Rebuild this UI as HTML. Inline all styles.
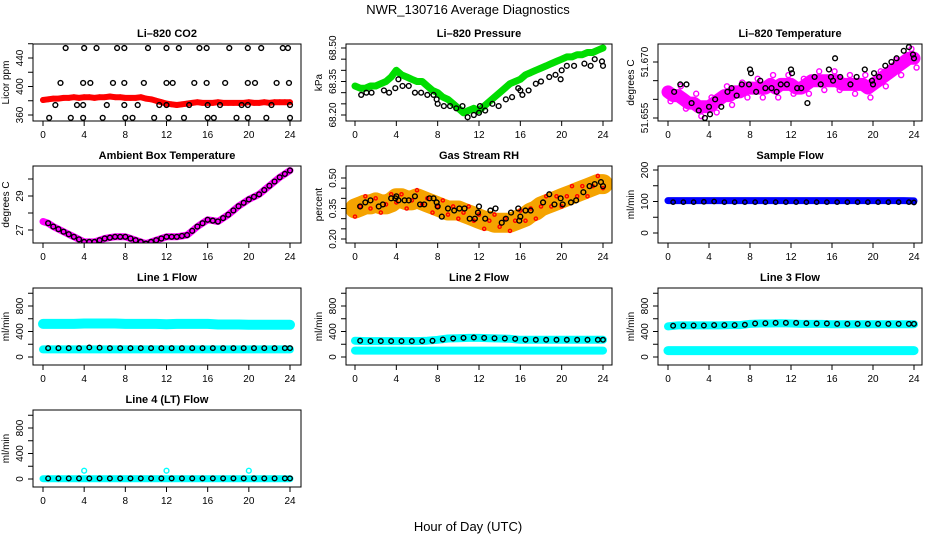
<!DOCTYPE html>
<html><head><meta charset="utf-8"><style>
body{margin:0;background:#fff}
svg{display:block;font-family:"Liberation Sans",sans-serif}
</style></head><body>
<svg id="c" width="936" height="540" viewBox="0 0 936 540">
<text x="468" y="14" text-anchor="middle" font-size="13">NWR_130716  Average Diagnostics</text>
<text x="468" y="531" text-anchor="middle" font-size="13">Hour of Day (UTC)</text>
</svg>
<script>
// ---- data ----
const co2Red=[381,382,383,383,384,384,385,384,385,385,384,385,385,386,385,385,384,384,384,385,383,382,380,378,376,375,374,375,376,377,378,377,377,377,378,377,377,377,377,377,378,377,377,378,377,378,378,378,378];
const co2BlackHours454=[2.2,4.0,5.2,7.2,7.9,10.2,12.0,13.2,15.2,15.9,18.1,19.9,21.2,23.3,23.8];
const co2BlackHours405=[1.7,3.9,4.6,6.8,7.9,9.8,12,12.6,14.7,15.9,17.7,19.9,20.6,22.7,23.9];
const co2BlackHours374=[1.2,3.3,3.9,6.2,7.9,9.2,11.3,12,14.2,16,17.2,19.3,19.9,22.2,24];
const co2BlackHours356=[0.6,2.7,3.9,5.8,8,8.7,10.8,12.2,13.7,16,16.6,18.8,19.9,21.7,24];
const presGreen=[68.33,68.32,68.32,68.33,68.33,68.34,68.35,68.37,68.40,68.38,68.37,68.36,68.35,68.35,68.33,68.31,68.30,68.28,68.27,68.25,68.23,68.21,68.22,68.23,68.22,68.24,68.26,68.28,68.30,68.32,68.34,68.35,68.36,68.38,68.39,68.40,68.41,68.42,68.43,68.44,68.45,68.46,68.46,68.47,68.47,68.48,68.48,68.49,68.50];
const presBlack=[[0.6,68.29],[1.1,68.30],[1.6,68.30],[2.8,68.31],[3.3,68.30],[3.9,68.32],[4.2,68.36],[4.6,68.33],[5.2,68.33],[5.8,68.30],[6.4,68.30],[7,68.29],[7.6,68.29],[7.9,68.27],[8,68.25],[8.6,68.24],[9.2,68.24],[9.8,68.23],[10.4,68.24],[10.9,68.19],[11.5,68.20],[12,68.21],[12.1,68.24],[12.6,68.22],[13.3,68.25],[13.9,68.24],[14.6,68.27],[15.2,68.28],[15.8,68.32],[16,68.31],[16.2,68.29],[16.8,68.31],[17.5,68.34],[18,68.35],[18.8,68.37],[19.4,68.38],[19.9,68.36],[20,68.40],[20.5,68.42],[21.2,68.42],[22.2,68.43],[22.8,68.42],[23.2,68.45],[23.9,68.44],[24,68.42]];
const tempMag=[51.662,51.661,51.661,51.660,51.659,51.659,51.658,51.658,51.658,51.659,51.660,51.661,51.661,51.662,51.662,51.663,51.663,51.663,51.663,51.663,51.664,51.663,51.664,51.664,51.664,51.663,51.663,51.664,51.665,51.665,51.665,51.665,51.665,51.665,51.664,51.664,51.664,51.664,51.664,51.663,51.664,51.665,51.666,51.667,51.668,51.669,51.670,51.671,51.671];
const tempBlack=[[0.6,51.662],[1.2,51.664],[1.8,51.664],[2.3,51.659],[3,51.657],[3.6,51.655],[4,51.658],[4.1,51.656],[4.6,51.660],[5.2,51.658],[5.8,51.662],[6.2,51.663],[6.7,51.661],[7.2,51.664],[7.9,51.664],[8,51.668],[8.1,51.667],[8.6,51.662],[9,51.665],[9.5,51.663],[10.1,51.663],[10.6,51.662],[11,51.664],[11.6,51.664],[12,51.668],[12.1,51.667],[12.6,51.663],[13,51.663],[13.6,51.659],[14.3,51.666],[14.9,51.664],[15.7,51.668],[15.9,51.666],[16.1,51.665],[16.3,51.671],[16.8,51.666],[17.8,51.664],[18.4,51.666],[19.2,51.668],[19.9,51.665],[20,51.664],[20.1,51.667],[20.6,51.666],[21.2,51.669],[21.8,51.670],[22.3,51.671],[23,51.673],[23.5,51.674],[23.9,51.672],[24,51.671]];
const ambient=[27.5,27.4,27.2,27.05,26.9,26.75,26.6,26.45,26.3,26.3,26.3,26.4,26.5,26.55,26.6,26.6,26.6,26.5,26.4,26.3,26.2,26.3,26.4,26.5,26.6,26.6,26.6,26.65,26.7,26.95,27.2,27.4,27.6,27.55,27.5,27.7,27.9,28.15,28.4,28.6,28.8,28.95,29.1,29.35,29.6,29.85,30.1,30.3,30.5];
const rhBand=[0.35,0.36,0.37,0.37,0.38,0.37,0.37,0.38,0.40,0.40,0.39,0.39,0.40,0.39,0.38,0.37,0.36,0.35,0.34,0.34,0.34,0.33,0.32,0.31,0.30,0.29,0.29,0.28,0.28,0.28,0.28,0.29,0.30,0.31,0.33,0.34,0.36,0.37,0.38,0.39,0.40,0.41,0.42,0.43,0.44,0.45,0.46,0.47,0.47];
const rhBlack=[[0.5,0.36],[1,0.38],[1.5,0.39],[2.3,0.36],[2.7,0.37],[3.5,0.40],[3.9,0.40],[4,0.41],[4.2,0.39],[4.8,0.39],[5.2,0.39],[5.8,0.41],[6.3,0.37],[6.7,0.37],[7.2,0.40],[7.6,0.40],[7.9,0.38],[8,0.36],[8.4,0.31],[9,0.35],[9.6,0.34],[10.1,0.35],[10.6,0.35],[11.1,0.30],[11.6,0.30],[11.9,0.33],[12,0.36],[12.6,0.30],[13.1,0.34],[13.6,0.35],[14.2,0.28],[14.6,0.30],[15.1,0.33],[15.8,0.35],[15.9,0.29],[16,0.31],[16.5,0.34],[17,0.34],[18.2,0.38],[18.8,0.42],[19.3,0.37],[19.9,0.40],[20.1,0.37],[20.9,0.38],[21.4,0.39],[22.1,0.43],[22.7,0.46],[23.2,0.47],[23.8,0.48],[24,0.46]];
const sampleBlue=[103,103,103,103,103,103,103,103,103,103,103,103,103,103,103,103,103,103,103,103,103,103,103,103,102];
const sampleBlack=[98,98,98,99,100,98,98,98,98,98,98,98,98,98,98,98,98,98,98,98,98,98,98,98,97];
const line1CyanHi=[520,520,520,520,525,525,525,525,520,520,520,520,515,520,520,520,520,510,510,510,505,505,505,505,505];
const line1CyanLo=[120,120,120,120,120,120,120,120,120,120,120,120,120,120,120,120,120,120,120,120,120,120,120,120,120];
const line1Black=[140,140,140,140,150,145,140,140,140,140,140,140,140,140,140,140,140,140,140,140,140,140,140,140,140];
const line2CyanHi=[255,250,250,250,250,250,250,255,270,290,295,300,300,295,290,285,270,270,270,270,270,270,270,270,270];
const line2CyanLo=[100,100,100,100,100,100,100,100,100,100,100,100,100,100,100,100,100,100,100,100,100,100,100,100,100];
const line2Black=[255,250,250,250,250,250,250,255,275,290,300,305,300,295,290,285,270,270,270,270,270,270,270,270,270];
const line3CyanHi=[480,495,495,495,495,495,500,500,520,525,525,530,525,520,520,520,515,515,515,515,515,515,515,515,515];
const line3CyanLo=[100,100,100,100,100,100,100,100,100,100,100,100,100,100,100,100,100,100,100,100,100,100,100,100,100];
const line3Black=[490,495,495,495,500,500,500,505,525,530,535,535,535,530,525,525,520,520,520,520,520,520,520,520,520];
const line4Cyan=[5,5,5,5,5,5,5,5,5,5,5,5,5,5,5,5,5,5,5,5,5,5,5,5,5];
const line4CyanSpikeHours=[4,12,20];
const line4CyanSpikeValues=[130,130,130];
const line4Black=[10,10,10,10,10,10,10,10,10,10,10,10,10,10,10,10,10,10,10,10,10,10,10,10,10];
const xTicks=[0,4,8,12,16,20,24];

// ---- drawing ----
const NS='http://www.w3.org/2000/svg';
const svg=document.getElementById('c');
function mk(tag,attrs,parent){const e=document.createElementNS(NS,tag);for(const k in attrs)e.setAttribute(k,attrs[k]);(parent||svg).appendChild(e);return e;}
const cols=[{bx0:33,bx1:301,h0:43,h24:290,lab:9,tl:23},{bx0:346,bx1:612,h0:355,h24:603,lab:322,tl:336},{bx0:658,bx1:922,h0:668,h24:914,lab:634,tl:648}];
let clipN=0;
function panel(name,title,col,row,v0,p0,v1,p1,ticks,labels,ylab){
  const c=cols[col];const off=row*122;const top=44+off,bot=121+off;
  const g=mk('g',{});
  
  
  const sx=h=>c.h0+h*(c.h24-c.h0)/24;
  const sy=v=>p0+(v-v0)*(p1-p0)/(v1-v0);
  const t=mk('text',{x:(c.bx0+c.bx1)/2,y:top-7,'text-anchor':'middle','font-size':11,'font-weight':'bold'},g);t.textContent=title;
  
  
  const id='cp'+(clipN++);
  const cp=mk('clipPath',{id:id},g);mk('rect',{x:c.bx0,y:top,width:c.bx1-c.bx0,height:bot-top},cp);
  const plot=mk('g',{'clip-path':'url(#'+id+')'},g);
  
  
  const box=mk('rect',{x:c.bx0,y:top,width:c.bx1-c.bx0,height:bot-top,fill:'none',stroke:'#000','stroke-width':1},g);
  
  
  xTicks.forEach(h=>{const x=sx(h);mk('line',{x1:x,x2:x,y1:bot,y2:bot+5,stroke:'#000'},g);
    const tx=mk('text',{x:x,y:bot+17,'text-anchor':'middle','font-size':10},g);tx.textContent=h;
    
    });
  ticks.forEach(v=>{const y=sy(v);if(y<top-1||y>bot+1)return;mk('line',{x1:c.bx0-5,x2:c.bx0,y1:y,y2:y,stroke:'#000'},g);});
  labels.forEach(s=>{const y=sy(parseFloat(s));const tx=mk('text',{x:c.tl,y:y,'text-anchor':'middle','font-size':10,transform:'rotate(-90 '+c.tl+' '+y+')'},g);tx.textContent=s;
    
    });
  const yl=mk('text',{x:c.lab,y:(top+bot)/2,'text-anchor':'middle','font-size':10,transform:'rotate(-90 '+c.lab+' '+(top+bot)/2+')'},g);yl.textContent=ylab;
  
  
  return {plot,sx,sy};
}
function band(P,vals,step,color,w,name){
  const pts=vals.map((v,i)=>P.sx(i*step).toFixed(1)+','+P.sy(v).toFixed(1)).join(' ');
  const pl=mk('polyline',{points:pts,fill:'none',stroke:color,'stroke-width':w,'stroke-linecap':'round','stroke-linejoin':'round'},P.plot);
  
  
}
function dots(P,pairs,color,r,name){
  pairs.forEach(([h,v])=>{const c=mk('circle',{cx:P.sx(h),cy:P.sy(v),r:r,fill:'none',stroke:color,'stroke-width':1.4},P.plot);
    
    });
}
const half=a=>a.map((v,i)=>[i*0.5,v]);
const hourly=a=>a.map((v,i)=>[i,v]);
const lvl=(hs,v)=>hs.map(h=>[h,v]);

// CO2
let P=panel('co2','Li\u2013820 CO2',0,0,360,115,440,58,[360,380,400,420,440,460],['360','400','440'],'Licor ppm');
band(P,co2Red,0.5,'#f00',6,'co2-red-series');dots(P,half(co2Red),'#f00',2.2,'co2-red-point');
dots(P,lvl(co2BlackHours454,454).concat(lvl(co2BlackHours405,405),lvl(co2BlackHours374,374),lvl(co2BlackHours356,356)),'#000',2.4,'co2-black-point');
// Pressure
P=panel('pressure','Li\u2013820 Pressure',1,0,68.20,115,68.50,48,[68.20,68.25,68.30,68.35,68.40,68.45,68.50],['68.20','68.35','68.50'],'kPa');
band(P,presGreen,0.5,'#0d0',7,'pressure-green-series');dots(P,presBlack,'#000',2.4,'pressure-black-point');
// Temperature
P=panel('temperature','Li\u2013820 Temperature',2,0,51.655,118,51.670,62,[51.655,51.660,51.665,51.670],['51.655','51.670'],'degrees C');
band(P,tempMag,0.5,'#f0f',13,'temperature-magenta-series');dots(P,half(tempMag).map(([h,v],i)=>[h+0.25,v+((i%3)-1)*0.0025]),'#f0f',2.5,'temperature-magenta-point');
dots(P,tempBlack,'#000',2.4,'temperature-black-point');
// Ambient
P=panel('ambient','Ambient Box Temperature',0,1,27,230,29,196,[26,27,28,29,30],['27','29'],'degrees C');
band(P,ambient,0.5,'#f0f',7,'ambient-magenta-series');dots(P,half(ambient).slice(1),'#000',2.4,'ambient-black-point');
// RH
P=panel('rh','Gas Stream RH',1,1,0.20,239,0.50,178,[0.20,0.25,0.30,0.35,0.40,0.45,0.50],['0.20','0.35','0.50'],'percent');
band(P,rhBand,0.5,'#f5a300',20,'rh-orange-series');dots(P,half(rhBand).map(([h,v],i)=>[h,v+((i*7%5)-2)*0.02]),'#f00',1.6,'rh-red-point');
dots(P,rhBlack,'#000',2.4,'rh-black-point');
// Sample flow
P=panel('sample-flow','Sample Flow',2,1,0,233,200,170,[0,50,100,150,200],['0','100','200'],'ml/min');
band(P,sampleBlue,1,'#00f',7,'sample-blue-series');dots(P,hourly(sampleBlack).map(([h,v])=>[Math.min(24,h+0.5),v]),'#000',2.2,'sample-black-point');
// Line flows
const fT=[0,200,400,600,800,1000],fL=['0','400','800'];
P=panel('line1','Line 1 Flow',0,2,0,357,800,306,fT,fL,'ml/min');
band(P,line1CyanHi,1,'#0ff',10,'line1-cyan-high');band(P,line1CyanLo,1,'#0ff',8,'line1-cyan-low');dots(P,hourly(line1Black).map(([h,v])=>[Math.min(24,h+0.5),v]),'#000',2.3,'line1-black-point');
P=panel('line2','Line 2 Flow',1,2,0,357,800,306,fT,fL,'ml/min');
band(P,line2CyanHi,1,'#0ff',8,'line2-cyan-high');band(P,line2CyanLo,1,'#0ff',8,'line2-cyan-low');dots(P,hourly(line2Black).map(([h,v])=>[Math.min(24,h+0.5),v]),'#000',2.3,'line2-black-point');
P=panel('line3','Line 3 Flow',2,2,0,357,800,306,fT,fL,'ml/min');
band(P,line3CyanHi,1,'#0ff',8,'line3-cyan-high');band(P,line3CyanLo,1,'#0ff',9,'line3-cyan-low');dots(P,hourly(line3Black).map(([h,v])=>[Math.min(24,h+0.5),v]),'#000',2.3,'line3-black-point');
P=panel('line4','Line 4 (LT) Flow',0,3,0,479,800,428,fT,fL,'ml/min');
band(P,line4Cyan,1,'#0ff',7,'line4-cyan-series');dots(P,line4CyanSpikeHours.map((h,i)=>[h,line4CyanSpikeValues[i]]),'#0ff',2.4,'line4-cyan-spike');
dots(P,hourly(line4Black).map(([h,v])=>[Math.min(24,h+0.5),v]),'#000',2.3,'line4-black-point');
</script>
</body></html>
